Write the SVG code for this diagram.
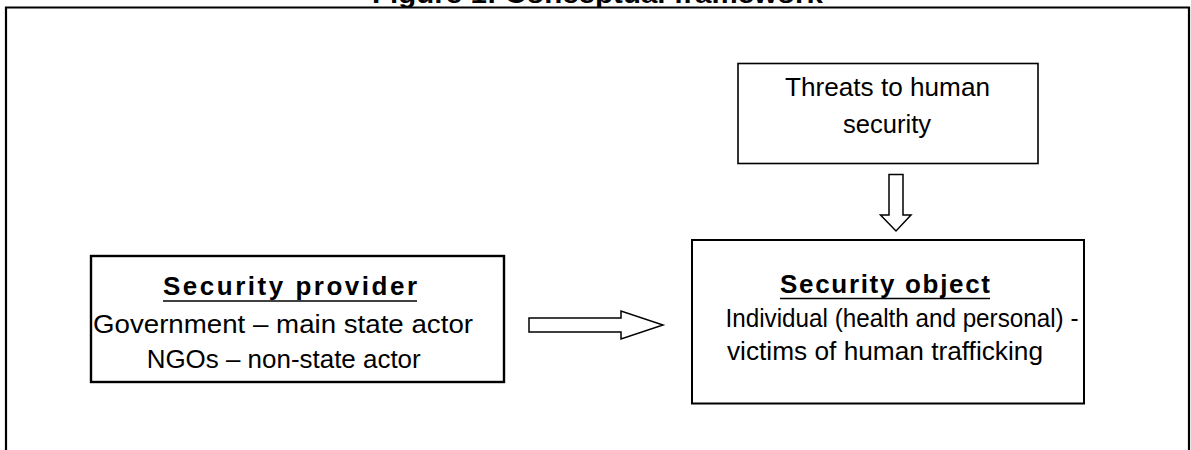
<svg xmlns="http://www.w3.org/2000/svg" width="1191" height="450" viewBox="0 0 1191 450">
<style>
.box{fill:#fff;stroke:#000}
.t{font-family:"Liberation Sans",Arial,sans-serif;font-size:26px;fill:#000}
.h{font-family:"Liberation Sans",Arial,sans-serif;font-size:26px;font-weight:bold;fill:#000}
.ul{stroke:#000;stroke-width:1.6}
.arr{fill:#fff;stroke:#000;stroke-width:1.5;stroke-linejoin:miter}
</style>
<rect width="1191" height="450" fill="#fff"/>
<g id="title">
<text class="h" x="372" y="3" font-size="24" textLength="451" lengthAdjust="spacingAndGlyphs">Figure 1: Conceptual framework</text>
</g>
<g id="frame">
<path d="M6,450 V7.5 H1189 V450" fill="none" stroke="#000" stroke-width="2.2"/>
</g>
<g id="threats">
<rect class="box" x="738" y="63.5" width="300" height="100" stroke-width="1.6"/>
<text class="t" x="887.5" y="96" text-anchor="middle" textLength="205" lengthAdjust="spacingAndGlyphs">Threats to human</text>
<text class="t" x="887" y="132.5" text-anchor="middle" textLength="88" lengthAdjust="spacingAndGlyphs">security</text>
</g>
<g id="provider">
<rect class="box" x="91" y="256" width="413" height="126" stroke-width="2.4"/>
<text class="h" x="290" y="295" text-anchor="middle" textLength="254" lengthAdjust="spacing">Security provider</text>
<line class="ul" x1="163" y1="301" x2="417" y2="301"/>
<text class="t" x="283" y="333" text-anchor="middle" textLength="380" lengthAdjust="spacingAndGlyphs">Government – main state actor</text>
<text class="t" x="283.7" y="368.3" text-anchor="middle" textLength="274" lengthAdjust="spacingAndGlyphs">NGOs – non-state actor</text>
</g>
<g id="object">
<rect class="box" x="692" y="240" width="392" height="163.5" stroke-width="2"/>
<text class="h" x="885" y="293" text-anchor="middle" textLength="210" lengthAdjust="spacing">Security object</text>
<line class="ul" x1="780" y1="298.5" x2="990" y2="298.5"/>
<text class="t" x="902" y="326.7" text-anchor="middle" textLength="353" lengthAdjust="spacingAndGlyphs">Individual (health and personal) -</text>
<text class="t" x="885" y="360" text-anchor="middle" textLength="316" lengthAdjust="spacingAndGlyphs">victims of human trafficking</text>
</g>
<g id="connectors">
<polygon class="arr" points="889,174.5 903,174.5 903,215 911,215 896,231 880.5,215 889,215"/>
<polygon class="arr" points="529,318 621,318 621,311 663,325 621,339 621,332 529,332"/>
</g>
</svg>
